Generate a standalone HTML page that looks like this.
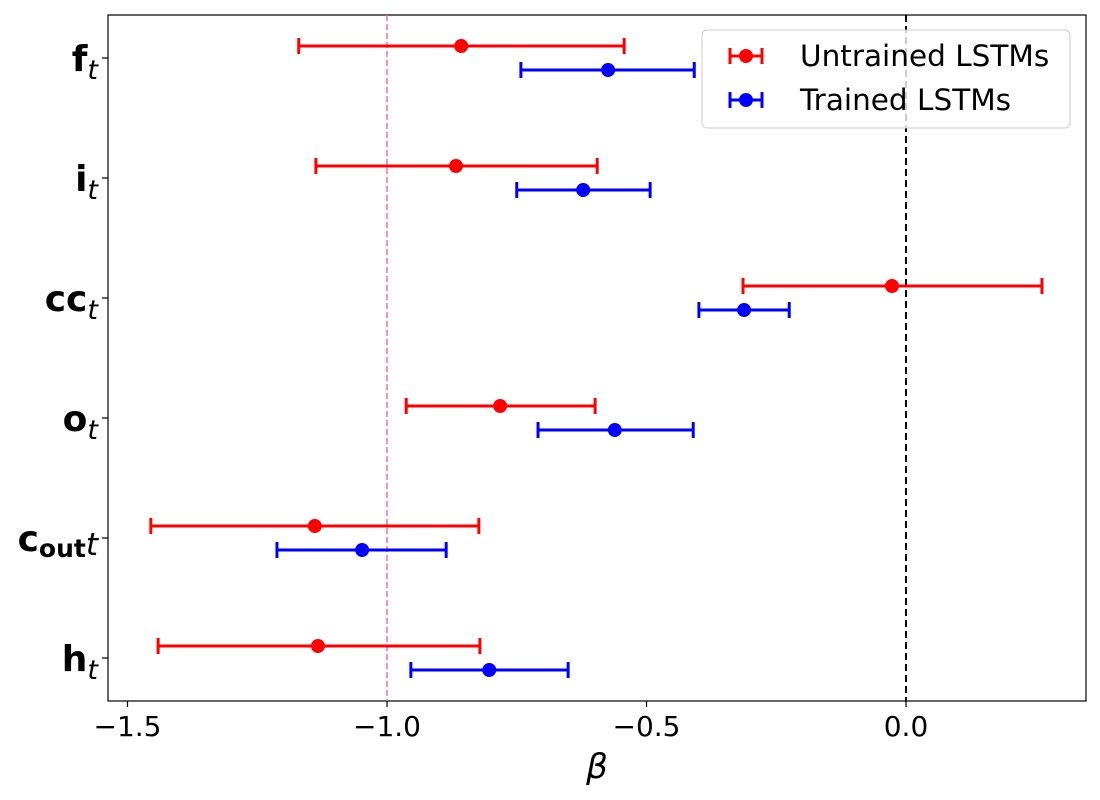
<!DOCTYPE html>
<html><head><meta charset="utf-8"><style>
body{margin:0;background:#fff;}
svg{display:block;font-family:"DejaVu Sans","Liberation Sans",sans-serif;}
</style></head><body>
<svg id="chart" width="1100" height="800">
<rect x="108" y="15" width="978" height="686" fill="none" stroke="#000" stroke-width="1.2"/>
<g id="marks"></g>
<g id="axes"></g>
<g>
<rect x="702" y="30" width="368" height="98" rx="5" fill="#fff" fill-opacity="0.8" stroke="#ccc"/>
<g>
<line x1="730" y1="56" x2="762" y2="56" stroke="red" stroke-width="3"/>
<line x1="730" y1="48" x2="730" y2="64" stroke="red" stroke-width="3"/>
<line x1="762" y1="48" x2="762" y2="64" stroke="red" stroke-width="3"/>
<circle cx="746" cy="56" r="7" fill="red"/>
<text x="800" y="66" font-size="29.5">Untrained LSTMs</text>
</g>
<g>
<line x1="730" y1="100" x2="762" y2="100" stroke="blue" stroke-width="3"/>
<line x1="730" y1="92" x2="730" y2="108" stroke="blue" stroke-width="3"/>
<line x1="762" y1="92" x2="762" y2="108" stroke="blue" stroke-width="3"/>
<circle cx="746" cy="100" r="7" fill="blue"/>
<text x="800" y="110" font-size="29.5">Trained LSTMs</text>
</g>
</g>
<text x="597" y="778" font-size="34" font-style="italic" text-anchor="middle">β</text>
</svg>
<script>
const categories = ["f","i","cc","o","c_out","h"];
const untrainedMean = [-0.857,-0.867,-0.027,-0.782,-1.139,-1.133];
const untrainedLow  = [-1.170,-1.137,-0.314,-0.963,-1.455,-1.441];
const untrainedHigh = [-0.543,-0.595,0.262,-0.599,-0.823,-0.821];
const trainedMean = [-0.574,-0.622,-0.312,-0.561,-1.048,-0.803];
const trainedLow  = [-0.742,-0.750,-0.399,-0.709,-1.212,-0.954];
const trainedHigh = [-0.408,-0.493,-0.225,-0.410,-0.886,-0.651];
const xTicks = [-1.5,-1.0,-0.5,0.0];
const xTickLabels = ["\u22121.5","\u22121.0","\u22120.5","0.0"];
const refLines = [-1.0, 0.0];

const NS="http://www.w3.org/2000/svg";
const xs = v => 906 + v*519;
const yc = i => 58 + i*120;
function mk(tag, attrs, parent){const e=document.createElementNS(NS,tag);for(const k in attrs)e.setAttribute(k,attrs[k]);parent.appendChild(e);return e;}
const marks=document.getElementById('marks'), axes=document.getElementById('axes');

let l1=mk('line',{x1:xs(refLines[0]),x2:xs(refLines[0]),y1:15,y2:701,stroke:'#f06bb5','stroke-width':1.5,'stroke-dasharray':'6,3'},marks);


let l2=mk('line',{x1:xs(refLines[1]),x2:xs(refLines[1]),y1:15,y2:701,stroke:'#000','stroke-width':2,'stroke-dasharray':'7,4'},marks);



function series(mean,low,high,color,off,name){
  mean.forEach((m,i)=>{
    const y=yc(i)+off;
    const g=mk('g',{},marks);
    
    
    mk('line',{x1:xs(low[i]),x2:xs(high[i]),y1:y,y2:y,stroke:color,'stroke-width':3},g);
    mk('line',{x1:xs(low[i]),x2:xs(low[i]),y1:y-8,y2:y+8,stroke:color,'stroke-width':3},g);
    mk('line',{x1:xs(high[i]),x2:xs(high[i]),y1:y-8,y2:y+8,stroke:color,'stroke-width':3},g);
    mk('circle',{cx:xs(m),cy:y,r:7,fill:color},g);
  });
}
series(untrainedMean,untrainedLow,untrainedHigh,'red',-12,'untrained-point');
series(trainedMean,trainedLow,trainedHigh,'blue',12,'trained-point');

xTicks.forEach((t,i)=>{
  mk('line',{x1:xs(t),x2:xs(t),y1:701,y2:707,stroke:'#000','stroke-width':1.2},axes);
  const tx=mk('text',{x:xs(t),y:736,'font-size':28,'text-anchor':'middle'},axes);
  tx.textContent=xTickLabels[i];
  
  
});
categories.forEach((c,i)=>{
  const y=yc(i);
  mk('line',{x1:102,x2:108,y1:y,y2:y,stroke:'#000','stroke-width':1.2},axes);
  const tx=mk('text',{x:98,y:y+13,'font-size':36,'text-anchor':'end','font-weight':'bold'},axes);
  
  
  if(c==='c_out'){
    const a=mk('tspan',{},tx);a.textContent='c';
    const b=mk('tspan',{'font-size':25,dy:6},tx);b.textContent='out';
    const d=mk('tspan',{'font-weight':'normal','font-style':'italic','font-size':31,dy:-2},tx);d.textContent='t';
  } else {
    const a=mk('tspan',{},tx);a.textContent=c;
    const d=mk('tspan',{'font-weight':'normal','font-style':'italic','font-size':27,dy:8},tx);d.textContent='t';
  }
});
</script>
</body></html>
